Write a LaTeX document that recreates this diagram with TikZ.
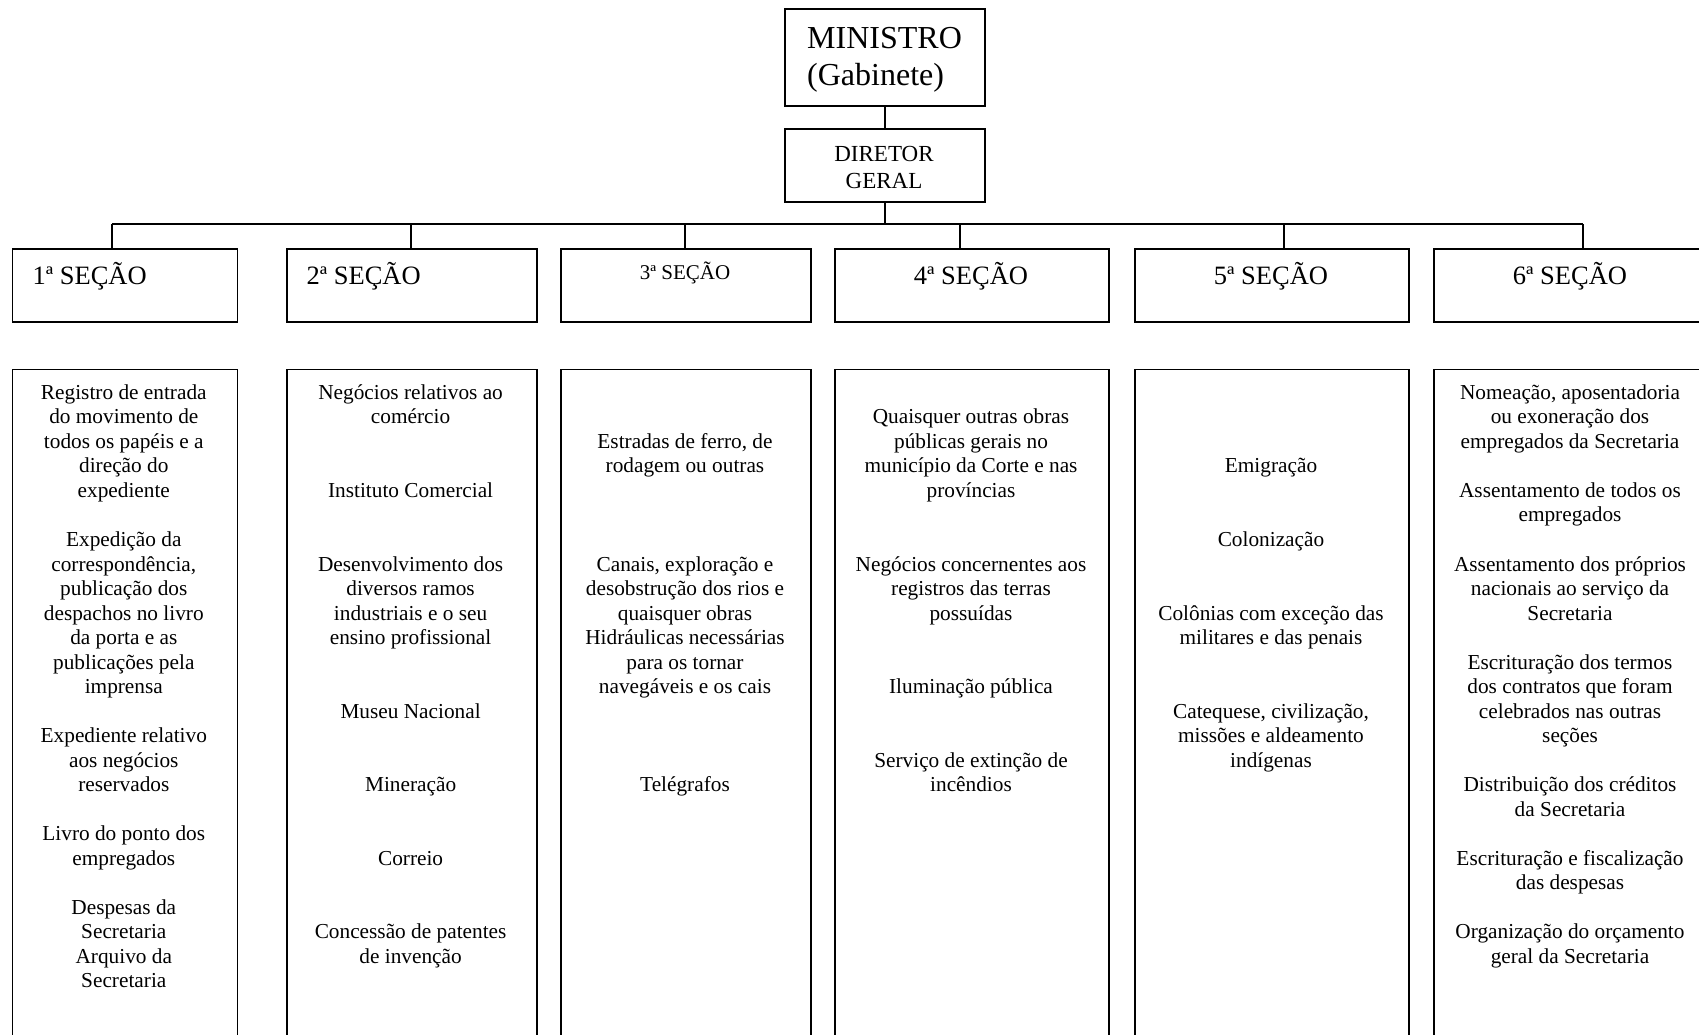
\documentclass[tikz,border=0pt]{standalone}
\usepackage{fontspec}
\setmainfont{Liberation Serif}
\begin{document}
\begin{tikzpicture}[x=1pt,y=-1pt,
  box/.style={draw, line width=1.8pt, rectangle, inner sep=0pt, anchor=north west},
  body/.style={font=\fontsize{21.3}{24.52}\selectfont, align=center, anchor=north, inner sep=0pt},
  sec/.style={font=\fontsize{26.5}{30}\selectfont, inner sep=0pt},
  secsmall/.style={font=\fontsize{21}{24}\selectfont, inner sep=0pt, anchor=base},
  mintxt/.style={font=\fontsize{32}{37}\selectfont, inner sep=0pt, anchor=base west},
  dirtxt/.style={font=\fontsize{23}{27}\selectfont, inner sep=0pt, anchor=base},
  link/.style={draw, line width=1.8pt}]
\useasboundingbox (0,0) rectangle (1699,1035);
\clip (0,0) rectangle (1699,1035);

% top boxes
\node[box, minimum width=200pt, minimum height=96.7pt] (min) at (784,8.3) {};
\node[mintxt] (mint1) at (807,49) {MINISTRO};
\node[mintxt] (mint2) at (807,86) {(Gabinete)};
\node[box, minimum width=200pt, minimum height=73pt] (dir) at (784,128) {};
\node[dirtxt] (dirt1) at (884,162) {DIRETOR};
\node[dirtxt] (dirt2) at (884,189) {GERAL};

% section boxes
\node[box, minimum width=225.1pt, minimum height=73pt] (s1) at (11.5,248) {};
\node[box, minimum width=250pt, minimum height=73pt] (s2) at (285.7,248) {};
\node[box, minimum width=250pt, minimum height=73pt] (s3) at (560,248) {};
\node[box, minimum width=274pt, minimum height=73pt] (s4) at (834,248) {};
\node[box, minimum width=274.7pt, minimum height=73pt] (s5) at (1133.7,248) {};
\node[box, minimum width=273.1pt, minimum height=73pt] (s6) at (1432.9,248) {};

\node[sec, anchor=base west] (l1) at (32.5,284) {1ª SEÇÃO};
\node[sec, anchor=base west] (l2) at (306.5,284) {2ª SEÇÃO};
\node[secsmall] (l3) at (685,279) {3ª SEÇÃO};
\node[sec, anchor=base] (l4) at (971,284) {4ª SEÇÃO};
\node[sec, anchor=base] (l5) at (1271,284) {5ª SEÇÃO};
\node[sec, anchor=base] (l6) at (1570,284) {6ª SEÇÃO};

% lower boxes
\node[box, minimum width=225.1pt, minimum height=690pt] (b1) at (11.5,368.5) {};
\node[box, minimum width=250pt, minimum height=690pt] (b2) at (285.7,368.5) {};
\node[box, minimum width=250pt, minimum height=690pt] (b3) at (560,368.5) {};
\node[box, minimum width=274pt, minimum height=690pt] (b4) at (834,368.5) {};
\node[box, minimum width=274.7pt, minimum height=690pt] (b5) at (1133.7,368.5) {};
\node[box, minimum width=273.1pt, minimum height=690pt] (b6) at (1432.9,368.5) {};

% connectors
\draw[link] (min.south) -- (min.south |- dir.north);
\coordinate (bar) at (884,224);
\draw[link] (dir.south) -- (dir.south |- bar);
\coordinate (k1) at (112,224);
\coordinate (k2) at (411,224);
\coordinate (k3) at (685,224);
\coordinate (k4) at (960,224);
\coordinate (k5) at (1284,224);
\coordinate (k6) at (1583,224);
\draw[link] (k1) -- (k6);
\draw[link] (k1) -- (k1 |- s1.north);
\draw[link] (k2) -- (k2 |- s2.north);
\draw[link] (k3) -- (k3 |- s3.north);
\draw[link] (k4) -- (k4 |- s4.north);
\draw[link] (k5) -- (k5 |- s5.north);
\draw[link] (k6) -- (k6 |- s6.north);

% body texts
\node[body] (t1) at (123.8,382) {\strut Registro de entrada\\\strut do movimento de\\\strut todos os papéis e a\\\strut direção do\\\strut expediente\\\strut\\\strut Expedição da\\\strut correspondência,\\\strut publicação dos\\\strut despachos no livro\\\strut da porta e as\\\strut publicações pela\\\strut imprensa\\\strut\\\strut Expediente relativo\\\strut aos negócios\\\strut reservados\\\strut\\\strut Livro do ponto dos\\\strut empregados\\\strut\\\strut Despesas da\\\strut Secretaria\\\strut Arquivo da\\\strut Secretaria};

\node[body] (t2) at (410.6,382) {\strut Negócios relativos ao\\\strut comércio\\\strut\\\strut\\\strut Instituto Comercial\\\strut\\\strut\\\strut Desenvolvimento dos\\\strut diversos ramos\\\strut industriais e o seu\\\strut ensino profissional\\\strut\\\strut\\\strut Museu Nacional\\\strut\\\strut\\\strut Mineração\\\strut\\\strut\\\strut Correio\\\strut\\\strut\\\strut Concessão de patentes\\\strut de invenção};

\node[body] (t3) at (685,382) {\strut\\\strut\\\strut Estradas de ferro, de\\\strut rodagem ou outras\\\strut\\\strut\\\strut\\\strut Canais, exploração e\\\strut desobstrução dos rios e\\\strut quaisquer obras\\\strut Hidráulicas necessárias\\\strut para os tornar\\\strut navegáveis e os cais\\\strut\\\strut\\\strut\\\strut Telégrafos};

\node[body] (t4) at (971,382) {\strut\\\strut Quaisquer outras obras\\\strut públicas gerais no\\\strut município da Corte e nas\\\strut províncias\\\strut\\\strut\\\strut Negócios concernentes aos\\\strut registros das terras\\\strut possuídas\\\strut\\\strut\\\strut Iluminação pública\\\strut\\\strut\\\strut Serviço de extinção de\\\strut incêndios};

\node[body] (t5) at (1271,382) {\strut\\\strut\\\strut\\\strut Emigração\\\strut\\\strut\\\strut Colonização\\\strut\\\strut\\\strut Colônias com exceção das\\\strut militares e das penais\\\strut\\\strut\\\strut Catequese, civilização,\\\strut missões e aldeamento\\\strut indígenas};

\node[body] (t6) at (1570,382) {\strut Nomeação, aposentadoria\\\strut ou exoneração dos\\\strut empregados da Secretaria\\\strut\\\strut Assentamento de todos os\\\strut empregados\\\strut\\\strut Assentamento dos próprios\\\strut nacionais ao serviço da\\\strut Secretaria\\\strut\\\strut Escrituração dos termos\\\strut dos contratos que foram\\\strut celebrados nas outras\\\strut seções\\\strut\\\strut Distribuição dos créditos\\\strut da Secretaria\\\strut\\\strut Escrituração e fiscalização\\\strut das despesas\\\strut\\\strut Organização do orçamento\\\strut geral da Secretaria};
\end{tikzpicture}
\end{document}
